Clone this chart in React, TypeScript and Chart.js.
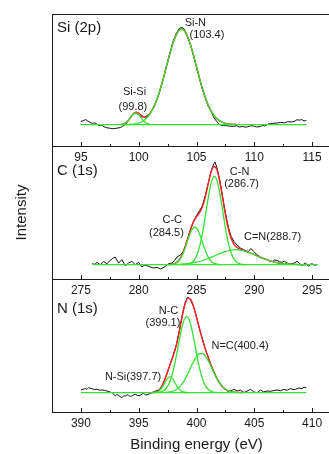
import React, { useEffect, useRef } from "react";
import { Chart, registerables } from "chart.js";

Chart.register(...registerables);

const FONT = '"Liberation Sans", Arial, Helvetica, sans-serif';
const INK = "#1a1a1a";
const BLACK = "#111111";
const RED = "#ff2020";
const GREEN = "#33e033";

// ---------------- Si (2p) ----------------
const siTicks = [95, 100, 105, 110, 115];
const siDataE = [95.0,95.25,95.4,95.6,95.8,96.0,96.2,96.4,96.6,96.8,97.0,97.25,97.5,97.8,98.1,98.4,98.6,98.85,99.1,99.35,99.6,99.8,100.0,100.2,100.4,100.6,100.8,101.0,101.3,101.5,101.75,102.0,102.25,102.5,102.75,103.0,103.25,103.5,103.7,103.9,104.1,104.3,104.5,104.75,105.0,105.25,105.5,105.75,106.0,106.25,106.5,106.75,107.0,107.3,107.6,107.9,108.2,108.5,108.7,109.0,109.2,109.4,109.7,110.0,110.2,110.5,110.7,110.9,111.1,111.4,111.7,112.0,112.3,112.6,112.9,113.2,113.5,113.7,113.9,114.1,114.3,114.5];
const siDataI = [24.6,25.5,26.5,24.8,23.6,22.6,23.2,21.6,20.6,21.0,19.2,18.2,17.8,17.3,17.8,18.4,19.8,21.5,25.0,29.5,32.5,32.8,31.0,29.5,29.0,29.5,31.0,33.5,38.5,44.0,52.0,62.5,73.0,84.5,95.0,105.5,112.5,117.5,118.5,117.5,113.0,107.5,100.5,90.0,78.5,67.5,57.0,48.5,40.0,35.0,28.5,24.5,21.5,20.3,20.3,19.8,19.6,20.2,19.0,19.6,18.8,19.2,20.2,19.8,19.0,19.4,20.6,20.0,21.5,22.5,22.8,23.0,23.6,23.2,24.3,24.0,24.8,26.3,25.8,26.5,25.0,25.6];
const siBaseE = [95, 114.5];
const siBaseI = [21.3, 21.3];
const siSiSiE = [98.5,98.75,99,99.25,99.5,99.75,100,100.25,100.5,100.75,101];
const siSiSiI = [21.5,22.3,24.2,27.6,31.3,33.0,31.3,27.6,24.2,22.3,21.5];
const siSiNE = [99,99.5,100,100.5,101,101.5,102,102.5,103,103.5,103.7,104,104.5,105,105.5,106,106.5,107,107.5,108,108.5];
const siSiNI = [21.4,21.8,23.0,25.9,32.4,44.2,62.0,83.8,104.1,115.9,117.0,114.5,100.5,79.4,58.0,41.3,30.7,25.1,22.6,21.7,21.4];
const siFitE = [98.5,98.75,99,99.25,99.5,99.75,100,100.25,100.5,100.75,101,101.5,102,102.5,103,103.5,103.7,104,104.5,105,105.5,106,106.5,107,107.5,108,108.5];
const siFitI = [21.5,22.3,24.4,27.9,31.8,33.9,33.0,30.4,28.8,29.6,32.6,44.2,62.0,83.8,104.1,115.9,117.0,114.5,100.5,79.4,58.0,41.3,30.7,25.1,22.6,21.7,21.4];

// ---------------- C (1s) ----------------
const cTicks = [275, 280, 285, 290, 295];
const cDataE = [275.98,276.2,276.39,276.67,276.96,277.25,277.54,277.75,277.97,278.26,278.55,278.84,279.12,279.41,279.7,279.99,280.28,280.5,280.71,281.0,281.29,281.6,281.87,282.1,282.3,282.59,282.88,283.1,283.31,283.6,283.83,284.0,284.25,284.5,284.75,285.0,285.25,285.5,285.75,286.0,286.25,286.5,286.6,286.75,287.0,287.25,287.5,287.75,288.0,288.25,288.5,288.8,289.08,289.3,289.51,289.7,289.94,290.23,290.52,290.81,291.1,291.3,291.54,291.75,291.97,292.2,292.4,292.6,292.84,293.05,293.27,293.5,293.7,293.9,294.13,294.3,294.42,294.6,294.71,294.85,295.0,295.2,295.43];
const cDataI = [15.3,14.6,16.6,14.3,17.6,15.3,18.6,20.5,22.0,16.0,19.3,13.3,16.0,17.6,14.3,16.6,12.0,13.8,13.3,12.0,11.0,11.6,10.0,11.2,12.6,15.3,16.0,18.5,22.0,24.0,27.0,32.0,41.0,50.5,58.0,63.5,68.0,73.0,83.0,95.0,107.5,115.5,117.0,112.0,100.0,83.0,66.5,52.0,42.5,37.5,34.0,31.0,29.3,28.0,27.6,30.5,27.6,24.3,22.0,20.6,19.3,18.0,17.3,19.0,18.6,17.2,16.6,17.8,16.0,15.0,15.3,16.2,17.6,15.6,13.3,15.5,16.0,14.0,12.6,14.8,15.3,13.8,14.3];
const cBaseE = [276, 295.5];
const cBaseI = [14.3, 14.3];
const cCCE = [282.6,282.85,283.1,283.35,283.6,283.85,284.1,284.35,284.6,284.85,285.1,285.35,285.6,285.85,286.1,286.35,286.6,286.85,287.1];
const cCCI = [14.4,14.6,15.3,16.9,20.2,25.8,33.7,42.3,49.3,52.0,49.3,42.3,33.7,25.8,20.2,16.9,15.3,14.6,14.4];
const cCNE = [283.8,284.05,284.3,284.55,284.8,285.05,285.3,285.55,285.8,286.05,286.3,286.55,286.8,287.05,287.3,287.55,287.8,288.05,288.3,288.55,288.8,289.05,289.3];
const cCNI = [14.4,14.5,15.0,16.2,18.9,24.4,33.9,47.9,65.6,83.7,97.4,102.6,97.4,83.7,65.6,47.9,33.9,24.4,18.9,16.2,15.0,14.5,14.4];
const cCdNE = [282.4,282.9,283.4,283.9,284.4,284.9,285.4,285.9,286.4,286.9,287.4,287.9,288.4,288.9,289.4,289.9,290.4,290.9,291.4,291.9,292.4,292.9,293.4,293.9,294.4];
const cCdNI = [14.3,14.4,14.6,15.0,15.6,16.6,18.0,20.0,22.4,24.9,27.2,28.7,29.3,28.7,27.2,24.9,22.4,20.0,18.0,16.6,15.6,15.0,14.6,14.4,14.3];
const cFitE = [282.5,282.75,283,283.25,283.5,283.75,284,284.25,284.5,284.75,285,285.25,285.5,285.75,286,286.25,286.5,286.75,287,287.25,287.5,287.75,288,288.25,288.5,288.75,289,289.5,290,290.5,291,291.5,292,292.5,293,293.5,294,294.5];
const cFitI = [14.4,14.6,15.1,16.4,19.0,23.9,31.2,40.5,49.9,57.4,62.2,66.1,71.8,81.4,94.4,106.4,112.5,109.7,98.2,81.5,64.5,50.4,40.5,34.7,31.6,29.8,28.8,26.7,24.4,21.9,19.6,17.7,16.3,15.4,14.9,14.6,14.4,14.3];

// ---------------- N (1s) ----------------
const nTicks = [390, 395, 400, 405, 410];
const nDataE = [390.0,390.2,390.38,390.52,390.67,390.8,390.95,391.15,391.39,391.6,391.82,392.05,392.25,392.45,392.69,392.85,392.97,393.1,393.26,393.4,393.55,393.7,393.84,394.0,394.13,394.27,394.41,394.55,394.7,394.9,395.14,395.3,395.43,395.6,395.86,396.0,396.15,396.3,396.44,396.75,397.0,397.25,397.5,397.75,398.0,398.25,398.5,398.75,399.0,399.2,399.35,399.5,399.75,400.0,400.25,400.5,400.75,401.0,401.25,401.5,401.75,402.0,402.25,402.5,402.75,402.94,403.23,403.52,403.8,404.1,404.38,404.67,404.96,405.25,405.54,405.82,406.1,406.4,406.7,406.97,407.25,407.55,407.84,408.12,408.35,408.56,408.85,409.13,409.3,409.5];
const nDataI = [22.0,22.8,23.4,22.6,24.4,23.8,23.4,22.4,22.7,21.8,22.0,21.6,21.0,20.2,19.4,17.8,16.0,17.5,16.7,15.2,14.4,16.2,16.0,17.2,16.7,15.6,16.0,17.0,17.7,16.4,16.7,18.0,18.7,17.0,17.7,18.6,19.4,20.2,21.0,22.0,26.0,32.5,40.0,49.0,57.5,67.0,80.5,96.0,108.5,114.5,114.0,112.0,105.0,95.5,84.0,73.5,63.5,55.5,47.5,40.5,34.0,29.0,25.0,22.5,20.5,21.0,22.7,21.0,22.0,19.4,21.0,22.7,20.0,19.4,22.0,20.0,21.0,20.7,21.5,22.0,21.2,22.7,21.7,23.4,22.5,22.7,24.0,23.4,24.8,24.4];
const nBaseE = [390, 409.5];
const nBaseI = [19.4, 19.4];
const nNSiE = [396.2,396.45,396.7,396.95,397.2,397.45,397.7,397.95,398.2,398.45,398.7,398.95,399.2];
const nNSiI = [19.45,19.75,20.8,23.4,28.0,33.1,35.4,33.1,28.0,23.4,20.8,19.75,19.45];
const nNCE = [396.65,396.9,397.15,397.4,397.65,397.9,398.15,398.4,398.65,398.9,399.15,399.4,399.65,399.9,400.15,400.4,400.65,400.9,401.15,401.4,401.65];
const nNCI = [19.65,20.15,21.4,24.0,29.1,37.6,49.9,64.9,79.9,91.2,95.4,91.2,79.9,64.9,49.9,37.6,29.1,24.0,21.4,20.15,19.65];
const nNdCE = [397.4,397.65,397.9,398.15,398.4,398.65,398.9,399.15,399.4,399.65,399.9,400.15,400.4,400.65,400.9,401.15,401.4,401.65,401.9,402.15,402.4,402.65,402.9,403.15,403.4];
const nNdCI = [19.7,20.0,20.6,21.8,23.7,26.6,30.7,35.9,42.0,48.2,53.6,57.4,58.7,57.4,53.6,48.2,42.0,35.9,30.7,26.6,23.7,21.8,20.6,20.0,19.7];
const nFitE = [395.75,396,396.25,396.5,396.75,397,397.25,397.5,397.75,398,398.25,398.5,398.75,399,399.25,399.5,399.75,400,400.25,400.5,400.75,401,401.25,401.5,401.75,402,402.25,402.5,402.75,403,403.25,403.5,404];
const nFitI = [19.4,19.4,19.5,20.0,21.5,25.3,32.1,40.6,48.8,56.5,66.3,79.7,94.9,107.5,113.6,112.5,105.2,94.7,83.4,72.9,63.4,54.9,47.1,40.0,33.9,29.0,25.3,22.8,21.2,20.3,19.8,19.6,19.4];

// ---------------- annotations (data coordinates) ----------------
type Ann = { text: string; x: number; y: number; size: number; align: CanvasTextAlign };
const siLabels: Ann[] = [
  { text: "Si (2p)", x: 92.93, y: 118.5, size: 15, align: "left" },
  { text: "Si-Si", x: 99.64, y: 54.3, size: 11, align: "center" },
  { text: "(99.8)", x: 99.5, y: 39.3, size: 11, align: "center" },
  { text: "Si-N", x: 104.9, y: 122.7, size: 11, align: "center" },
  { text: "(103.4)", x: 105.9, y: 111.0, size: 11, align: "center" },
];
const cLabels: Ann[] = [
  { text: "C (1s)", x: 272.93, y: 108.5, size: 15, align: "left" },
  { text: "C-N", x: 288.73, y: 107.3, size: 11, align: "center" },
  { text: "(286.7)", x: 288.9, y: 95.0, size: 11, align: "center" },
  { text: "C-C", x: 282.9, y: 59.0, size: 11, align: "center" },
  { text: "(284.5)", x: 282.4, y: 46.3, size: 11, align: "center" },
  { text: "C=N(288.7)", x: 291.58, y: 42.3, size: 11, align: "center" },
];
const nLabels: Ann[] = [
  { text: "N (1s)", x: 387.93, y: 103.2, size: 15, align: "left" },
  { text: "N-C", x: 397.58, y: 101.3, size: 11, align: "center" },
  { text: "(399.1)", x: 397.1, y: 89.3, size: 11, align: "center" },
  { text: "N=C(400.4)", x: 403.77, y: 66.0, size: 11, align: "center" },
  { text: "N-Si(397.7)", x: 394.51, y: 34.7, size: 11, align: "center" },
];

const pts = (xs: number[], ys: number[]) =>
  xs.slice(0, Math.min(xs.length, ys.length)).map((x, i) => ({ x, y: ys[i] }));

const decorPlugin = {
  id: "decor",
  afterDraw(chart: any, _args: any, opts: any) {
    const { ctx, chartArea } = chart;
    const xs = chart.scales.x;
    const ys = chart.scales.y;
    ctx.save();
    ctx.strokeStyle = INK;
    ctx.lineWidth = 1;
    ctx.beginPath();
    for (const t of xs.ticks) {
      const v = t.value;
      if (v <= xs.min + 1e-6 || v >= xs.max - 1e-6) continue;
      const major = Math.abs(v / 5 - Math.round(v / 5)) < 1e-6;
      const px = Math.round(xs.getPixelForValue(v)) + 0.5;
      ctx.moveTo(px, chartArea.bottom);
      ctx.lineTo(px, chartArea.bottom - (major ? 4 : 2));
    }
    if (opts.topBorder) {
      const y = Math.round(chartArea.top) + 0.5;
      ctx.moveTo(chartArea.left, y);
      ctx.lineTo(chartArea.right, y);
    }
    ctx.stroke();
    ctx.fillStyle = INK;
    ctx.textBaseline = "middle";
    for (const a of opts.labels as Ann[]) {
      ctx.font = `${a.size}px ${FONT}`;
      ctx.textAlign = a.align;
      ctx.fillText(a.text, xs.getPixelForValue(a.x), ys.getPixelForValue(a.y));
    }
    ctx.restore();
  },
};

type Spec = {
  top: number;
  width: number;
  plotH: number;
  xH: number;
  min: number;
  max: number;
  ticks: number[];
  comps: [number[], number[]][];
  fit: [number[], number[]];
  data: [number[], number[]];
  labels: Ann[];
  topBorder: boolean;
  yTitle?: string;
  xTitle?: string;
};

const W = 345;
const PLOT_RIGHT = 341;

const specs: Spec[] = [
  {
    top: 12, width: W, plotH: 132, xH: 22, min: 92.5, max: 117.5, ticks: siTicks,
    comps: [[siSiSiE, siSiSiI], [siSiNE, siSiNI], [siBaseE, siBaseI]],
    fit: [siFitE, siFitI], data: [siDataE, siDataI], labels: siLabels, topBorder: true,
  },
  {
    top: 144, width: W, plotH: 133, xH: 22, min: 272.5, max: 297.5, ticks: cTicks,
    comps: [[cCCE, cCCI], [cCNE, cCNI], [cCdNE, cCdNI], [cBaseE, cBaseI]],
    fit: [cFitE, cFitI], data: [cDataE, cDataI], labels: cLabels, topBorder: false,
    yTitle: "Intensity",
  },
  {
    top: 277, width: W, plotH: 133, xH: 42, min: 387.5, max: 412.5, ticks: nTicks,
    comps: [[nNSiE, nNSiI], [nNCE, nNCI], [nNdCE, nNdCI], [nBaseE, nBaseI]],
    fit: [nFitE, nFitI], data: [nDataE, nDataI], labels: nLabels, topBorder: false,
    xTitle: "Binding energy (eV)",
  },
];

function buildConfig(s: Spec): any {
  const green = s.comps.map(([e, i]) => ({
    data: pts(e, i),
    borderColor: GREEN,
    borderWidth: 1.3,
    pointRadius: 0,
    fill: false,
    cubicInterpolationMode: "monotone",
  }));
  return {
    type: "line",
    data: {
      datasets: [
        ...green,
        {
          data: pts(s.fit[0], s.fit[1]),
          borderColor: RED,
          borderWidth: 1.4,
          pointRadius: 0,
          fill: false,
          cubicInterpolationMode: "monotone",
        },
        {
          data: pts(s.data[0], s.data[1]),
          borderColor: BLACK,
          borderWidth: 1,
          pointRadius: 0,
          fill: false,
          tension: 0,
        },
      ],
    },
    options: {
      responsive: false,
      animation: false,
      devicePixelRatio: 1,
      events: [],
      layout: { padding: { top: 2, left: 0, bottom: 0, right: s.width - PLOT_RIGHT } },
      plugins: {
        legend: { display: false },
        tooltip: { enabled: false },
        decor: { labels: s.labels, topBorder: s.topBorder },
      },
      scales: {
        x: {
          type: "linear",
          min: s.min,
          max: s.max,
          afterFit: (sc: any) => {
            sc.height = s.xH;
          },
          ticks: {
            stepSize: 2.5,
            autoSkip: false,
            maxRotation: 0,
            minRotation: 0,
            padding: 4,
            color: INK,
            font: { family: FONT, size: 12 },
            callback: (v: any) => {
              const n = Number(v);
              const hit = s.ticks.find((t) => Math.abs(t - n) < 1e-6);
              return hit !== undefined ? String(hit) : "";
            },
          },
          grid: { display: false, drawTicks: false },
          border: { display: true, color: INK, width: 1 },
          title: s.xTitle
            ? {
                display: true,
                text: s.xTitle,
                color: INK,
                font: { family: FONT, size: 15 },
                padding: { top: 0, bottom: 0 },
              }
            : { display: false },
        },
        y: {
          min: 0,
          max: s.plotH,
          afterFit: (sc: any) => {
            sc.width = 52;
          },
          ticks: { display: false },
          grid: { display: false, drawTicks: false },
          border: { display: true, color: INK, width: 1 },
          title: s.yTitle
            ? {
                display: true,
                text: s.yTitle,
                color: INK,
                font: { family: FONT, size: 15 },
                padding: { top: 13, bottom: 0 },
              }
            : { display: false },
        },
      },
    },
    plugins: [decorPlugin],
  };
}

function Panel({ spec }: { spec: Spec }) {
  const ref = useRef<HTMLCanvasElement | null>(null);
  const height = 2 + spec.plotH + spec.xH;
  useEffect(() => {
    if (!ref.current) return;
    const chart = new Chart(ref.current, buildConfig(spec));
    return () => chart.destroy();
  }, [spec]);
  return (
    <canvas
      ref={ref}
      width={spec.width}
      height={height}
      style={{ position: "absolute", left: 0, top: spec.top, width: spec.width, height }}
    />
  );
}

export default function App() {
  return (
    <div
      style={{
        position: "fixed",
        left: 0,
        top: 0,
        width: 329,
        height: 454,
        overflow: "hidden",
        background: "#ffffff",
      }}
    >
      {specs.map((s, i) => (
        <Panel key={i} spec={s} />
      ))}
    </div>
  );
}
